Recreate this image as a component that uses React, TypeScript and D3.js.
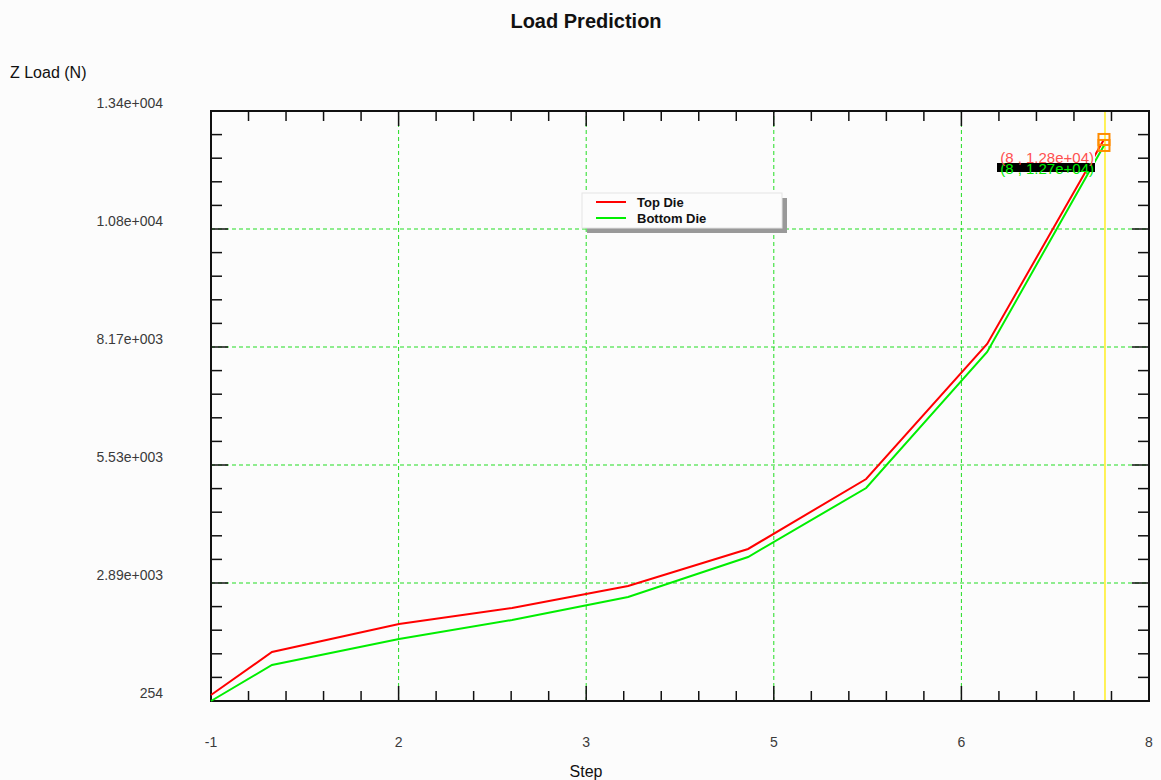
import * as d3 from "d3";
import React, { useEffect, useRef } from "react";

// step values (axis units)
const steps = [-1, -0.415, 0.804, 1.889, 3.002, 4.153, 5.286, 6.447, 7.568];
const topDie = [388, 1349, 1974, 2332, 2823, 3650, 5213, 8229, 12798];
const bottomDie = [254, 1058, 1639, 2064, 2577, 3471, 5012, 8051, 12664];

const xTickLabels = ["-1", "2", "3", "5", "6", "8"];
const yTickLabels = ["254", "2.89e+003", "5.53e+003", "8.17e+003", "1.08e+004", "1.34e+004"];

const seriesNames = ["Top Die", "Bottom Die"];
const seriesColors = ["#ff0000", "#00ee00"];
const cursorLabels = ["(8 , 1.28e+04)", "(8 , 1.27e+04)"];

export default function App() {
  const ref = useRef<SVGSVGElement>(null);

  useEffect(() => {
    const width = 1161;
    const height = 780;
    const margin = { top: 111, right: 12, bottom: 79, left: 211 };
    const font = "'Liberation Sans', Arial, sans-serif";

    const svg = d3.select(ref.current);
    svg.selectAll("*").remove();
    svg.append("rect").attr("width", width).attr("height", height).attr("fill", "#fcfcfc");

    const x = d3.scaleLinear().domain([-1, 8]).range([margin.left, width - margin.right]);
    const y = d3.scaleLinear().domain([254, 13434]).range([height - margin.bottom, margin.top]);

    const [x0, x1] = x.range();
    const [y0, y1] = y.range();

    const xMajor = d3.range(6).map((i) => -1 + i * 1.8);
    const xMinor = d3.range(26).map((i) => -1 + i * 0.36);
    const yMajor = d3.range(6).map((i) => 254 + i * 2636);
    const yMinor = d3.range(26).map((i) => 254 + i * 527.2);

    // grid
    const grid = svg.append("g").attr("stroke", "#22dd22").attr("stroke-dasharray", "4,3");
    xMajor.slice(1, -1).forEach((v) => {
      grid.append("line").attr("x1", x(v)).attr("x2", x(v)).attr("y1", y0).attr("y2", y1);
    });
    yMajor.slice(1, -1).forEach((v) => {
      grid.append("line").attr("x1", x0).attr("x2", x1).attr("y1", y(v)).attr("y2", y(v));
    });

    // cursor line
    const last = steps.length - 1;
    svg
      .append("line")
      .attr("x1", x(steps[last]) + 1)
      .attr("x2", x(steps[last]) + 1)
      .attr("y1", y0)
      .attr("y2", y1)
      .attr("stroke", "#ffee22")
      .attr("stroke-width", 1.5);

    // ticks on all four sides, pointing inward
    const ticks = svg.append("g").attr("stroke", "#111").attr("stroke-width", 1.5);
    xMinor.forEach((v, i) => {
      const len = i % 5 === 0 ? 15 : 10;
      ticks.append("line").attr("x1", x(v)).attr("x2", x(v)).attr("y1", y0).attr("y2", y0 - len);
      ticks.append("line").attr("x1", x(v)).attr("x2", x(v)).attr("y1", y1).attr("y2", y1 + len);
    });
    yMinor.forEach((v, i) => {
      const len = i % 5 === 0 ? 17 : 11;
      ticks.append("line").attr("x1", x0).attr("x2", x0 + len).attr("y1", y(v)).attr("y2", y(v));
      ticks.append("line").attr("x1", x1).attr("x2", x1 - len).attr("y1", y(v)).attr("y2", y(v));
    });

    // frame
    svg
      .append("rect")
      .attr("x", x0)
      .attr("y", y1)
      .attr("width", x1 - x0)
      .attr("height", y0 - y1)
      .attr("fill", "none")
      .attr("stroke", "#111")
      .attr("stroke-width", 2);

    // tick labels
    svg
      .append("g")
      .selectAll("text")
      .data(xMajor)
      .enter()
      .append("text")
      .attr("x", (d) => x(d))
      .attr("y", 747)
      .attr("text-anchor", "middle")
      .attr("font-family", font)
      .attr("font-size", 14)
      .attr("fill", "#3a3a3a")
      .text((d, i) => xTickLabels[i]);

    svg
      .append("g")
      .selectAll("text")
      .data(yMajor)
      .enter()
      .append("text")
      .attr("x", 163)
      .attr("y", (d) => y(d) - 3)
      .attr("text-anchor", "end")
      .attr("font-family", font)
      .attr("font-size", 14)
      .attr("fill", "#3a3a3a")
      .text((d, i) => yTickLabels[i]);

    // series lines
    const line = d3
      .line<number>()
      .x((d, i) => x(steps[i]))
      .y((d) => y(d));
    [topDie, bottomDie].forEach((vals, k) => {
      svg
        .append("path")
        .datum(vals)
        .attr("d", line)
        .attr("fill", "none")
        .attr("stroke", seriesColors[k])
        .attr("stroke-width", 2);
    });

    // cursor markers
    [topDie, bottomDie].forEach((vals) => {
      svg
        .append("rect")
        .attr("x", x(steps[last]) - 5.5)
        .attr("y", y(vals[last]) - 5.5)
        .attr("width", 11)
        .attr("height", 11)
        .attr("fill", "none")
        .attr("stroke", "#ff8c00")
        .attr("stroke-width", 2);
    });

    // cursor value labels (the green one sits half hidden under the red one)
    svg.append("rect").attr("x", 997).attr("y", 163).attr("width", 98).attr("height", 9).attr("fill", "#000");
    svg
      .append("text")
      .attr("x", 1094)
      .attr("y", 174)
      .attr("text-anchor", "end")
      .attr("font-family", font)
      .attr("font-size", 15)
      .attr("fill", "#00ee00")
      .text(cursorLabels[1]);
    svg.append("rect").attr("x", 995).attr("y", 149).attr("width", 100).attr("height", 14).attr("fill", "#fcfcfc");
    svg
      .append("text")
      .attr("x", 1094)
      .attr("y", 163)
      .attr("text-anchor", "end")
      .attr("font-family", font)
      .attr("font-size", 15)
      .attr("fill", "#ff5050")
      .text(cursorLabels[0]);

    // legend
    const lg = svg.append("g").attr("transform", "translate(582,193)");
    lg.append("rect").attr("x", 5).attr("y", 5).attr("width", 200).attr("height", 35).attr("fill", "#999");
    lg.append("rect")
      .attr("width", 200)
      .attr("height", 35)
      .attr("fill", "#fcfcfc")
      .attr("stroke", "#e4e4e4");
    seriesNames.forEach((name, k) => {
      lg.append("line")
        .attr("x1", 14)
        .attr("x2", 44)
        .attr("y1", 9 + k * 16)
        .attr("y2", 9 + k * 16)
        .attr("stroke", seriesColors[k])
        .attr("stroke-width", 2);
      lg.append("text")
        .attr("x", 55)
        .attr("y", 14 + k * 16)
        .attr("font-family", font)
        .attr("font-size", 13)
        .attr("font-weight", "bold")
        .attr("fill", "#111")
        .text(name);
    });

    // titles
    svg
      .append("text")
      .attr("x", 586)
      .attr("y", 28)
      .attr("text-anchor", "middle")
      .attr("font-family", font)
      .attr("font-size", 20)
      .attr("font-weight", "bold")
      .attr("fill", "#111")
      .text("Load Prediction");
    svg
      .append("text")
      .attr("x", 10)
      .attr("y", 78)
      .attr("font-family", font)
      .attr("font-size", 16)
      .attr("fill", "#111")
      .text("Z Load (N)");
    svg
      .append("text")
      .attr("x", 586)
      .attr("y", 777)
      .attr("text-anchor", "middle")
      .attr("font-family", font)
      .attr("font-size", 16)
      .attr("fill", "#111")
      .text("Step");
  }, []);

  return (
    <svg
      ref={ref}
      width={1161}
      height={780}
      style={{ position: "absolute", left: 0, top: 0 }}
    />
  );
}
